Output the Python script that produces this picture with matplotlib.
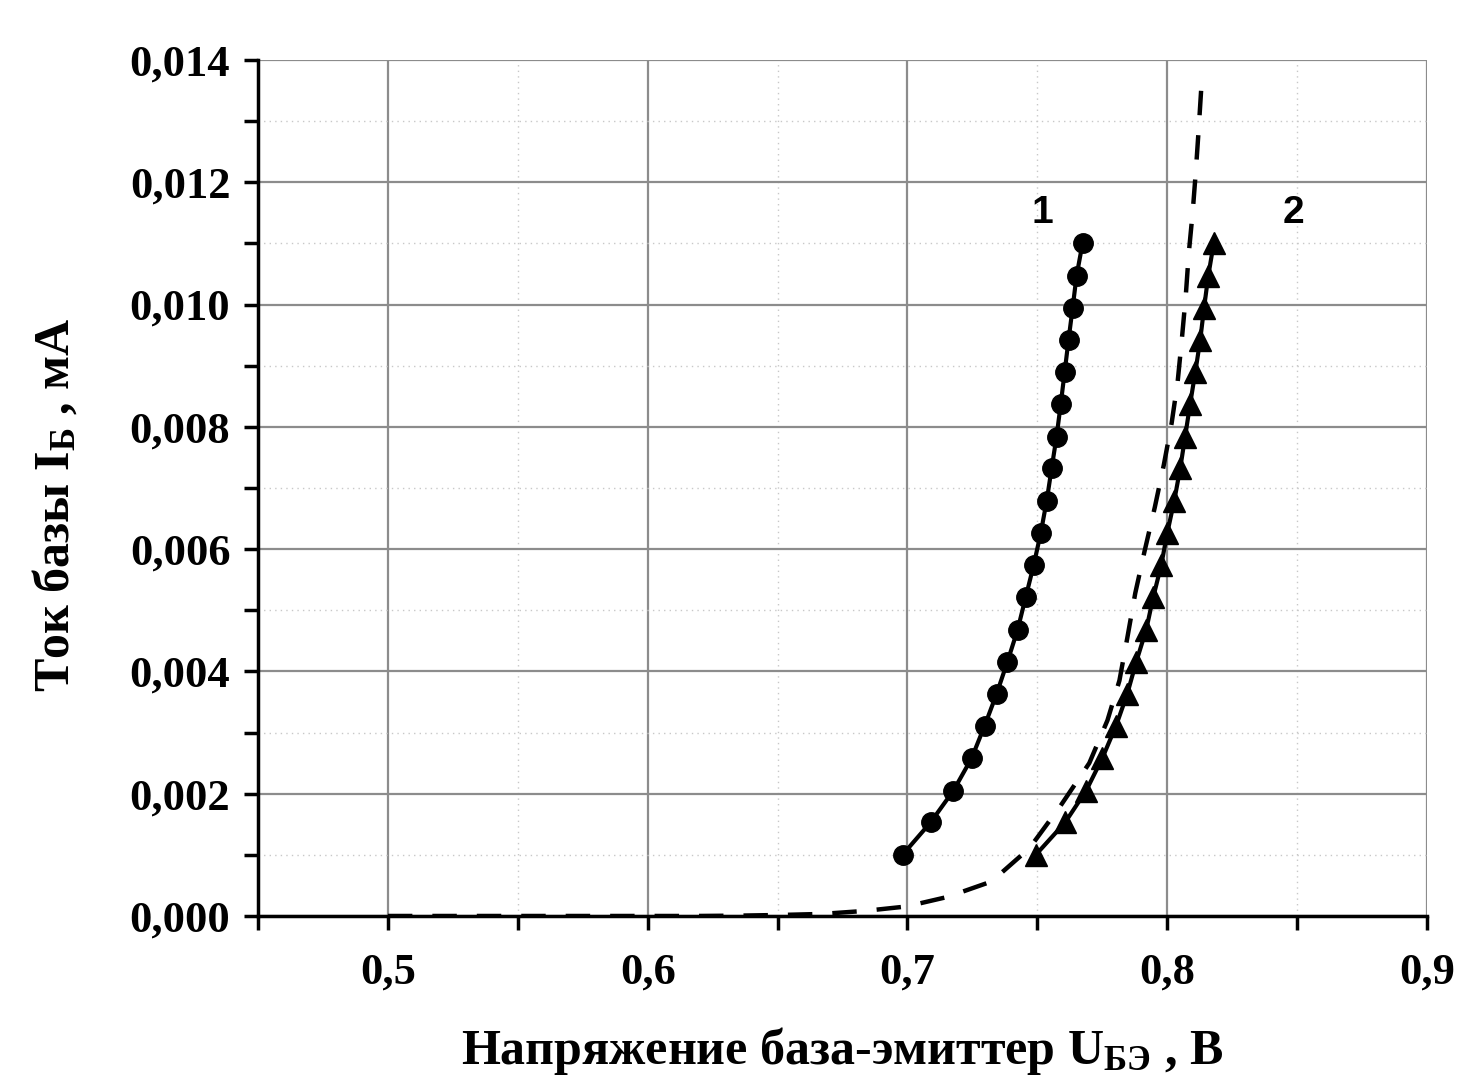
import matplotlib
matplotlib.use('Agg')
import matplotlib.pyplot as plt
from matplotlib.ticker import MultipleLocator, FuncFormatter

# кривая 1 (кружки)
u1 = [0.6981, 0.7089, 0.7177, 0.7247, 0.7297, 0.7343, 0.7385, 0.7424, 0.7455, 0.7486,
      0.7513, 0.7536, 0.7555, 0.7574, 0.7590, 0.7605, 0.7620, 0.7636, 0.7651, 0.7674]
i1 = [0.00100, 0.00153, 0.00205, 0.00258, 0.00311, 0.00363, 0.00416, 0.00468, 0.00521, 0.00574,
      0.00626, 0.00679, 0.00732, 0.00784, 0.00837, 0.00889, 0.00942, 0.00995, 0.01047, 0.01100]

# кривая 2 (треугольники)
u2 = [0.7494, 0.7607, 0.7688, 0.7750, 0.7803, 0.7846, 0.7881, 0.7919, 0.7946, 0.7977,
      0.8000, 0.8027, 0.8050, 0.8069, 0.8088, 0.8108, 0.8127, 0.8142, 0.8158, 0.8179]
i2 = i1

# пунктирная кривая
u3 = [0.5000, 0.6000, 0.6187, 0.6341, 0.6507, 0.6669, 0.6834, 0.6996, 0.7154, 0.7324,
      0.7470, 0.7589, 0.7700, 0.7770, 0.7816, 0.7846, 0.7877, 0.7913, 0.7952, 0.7987,
      0.8017, 0.8040, 0.8056, 0.8071, 0.8083, 0.8098, 0.8110, 0.8121, 0.8133]
i3 = [0.0, 0.0, 0.0, 0.000005, 0.000016, 0.000033, 0.000082, 0.000155, 0.000311, 0.000564,
      0.00111, 0.00180, 0.00250, 0.00320, 0.00385, 0.00454, 0.00528, 0.00597, 0.00668, 0.00738,
      0.00806, 0.00873, 0.00942, 0.01012, 0.01084, 0.01151, 0.01217, 0.01286, 0.01367]

plt.rcParams['mathtext.fontset'] = 'custom'
plt.rcParams['mathtext.rm'] = 'Liberation Serif:bold'
plt.rcParams['mathtext.bf'] = 'Liberation Serif:bold'
plt.rcParams['mathtext.it'] = 'Liberation Serif:bold'

fig = plt.figure(figsize=(14.57, 10.79), dpi=100)
ax = fig.add_axes([0.1771, 0.1511, 0.8023, 0.7933])

ax.plot(u3, i3, color='black', lw=3.2, ls=(0, (5.5, 4.5)), zorder=3)
ax.plot(u1, i1, color='black', lw=3.0, marker='o', ms=14, zorder=4)
ax.plot(u2, i2, color='black', lw=3.0, marker='^', ms=16, zorder=4)

ax.set_xlim(0.45, 0.9)
ax.set_ylim(0, 0.014)

ax.xaxis.set_major_locator(MultipleLocator(0.1))
ax.xaxis.set_minor_locator(MultipleLocator(0.05))
ax.yaxis.set_major_locator(MultipleLocator(0.002))
ax.yaxis.set_minor_locator(MultipleLocator(0.001))
ax.xaxis.set_major_formatter(FuncFormatter(lambda v, p: ('%.1f' % v).replace('.', ',')))
ax.yaxis.set_major_formatter(FuncFormatter(lambda v, p: ('%.3f' % v).replace('.', ',')))

ax.grid(which='major', color='#8c8c8c', lw=1.6, ls='-')
ax.grid(which='minor', color='#c8c8c8', lw=1.0, ls=(0, (1, 3)))
ax.set_axisbelow(True)

for s in ['top', 'right']:
    ax.spines[s].set_visible(False)
for s in ['left', 'bottom']:
    ax.spines[s].set_linewidth(2.5)

ax.tick_params(which='both', direction='out', width=2.5, length=10, pad=10)
ax.tick_params(axis='x', which='both', pad=16)
for lab in ax.get_xticklabels() + ax.get_yticklabels():
    lab.set_fontfamily('Liberation Serif')
    lab.set_fontweight('bold')
    lab.set_fontsize(32)

ax.set_xlabel(r'Напряжение база-эмиттер U$_{\mathrm{БЭ}}$ , В',
              fontfamily='Liberation Serif', fontweight='bold', fontsize=36, labelpad=24)
ax.set_ylabel(r'Ток базы I$_{\mathrm{Б}}$ , мА',
              fontfamily='Liberation Serif', fontweight='bold', fontsize=36, labelpad=36)
ax.yaxis.label.set_y(0.48)

ax.text(0.7520, 0.0115, '1', fontfamily='Liberation Sans', fontweight='bold', fontsize=28,
        ha='center', va='center')
ax.text(0.8484, 0.0115, '2', fontfamily='Liberation Sans', fontweight='bold', fontsize=28,
        ha='center', va='center')

plt.savefig('out.png')
